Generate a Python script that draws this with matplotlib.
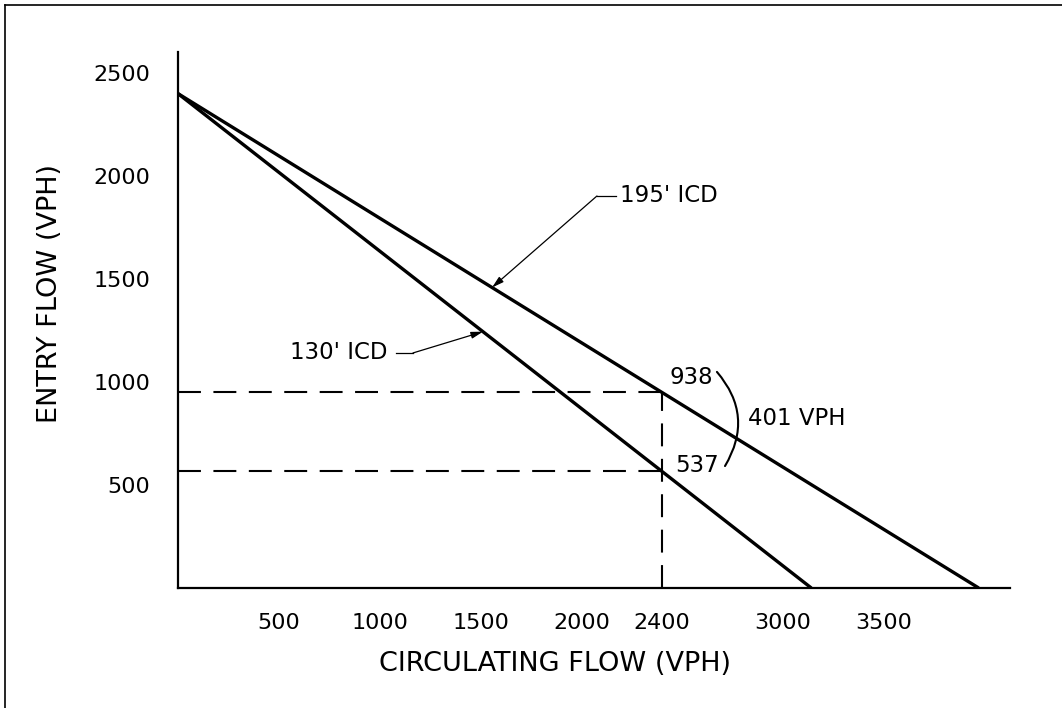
import matplotlib.pyplot as plt
import numpy as np
from matplotlib.lines import Line2D

# data
circ_130 = [0, 3140]          # circulating flow at ends of the 130' ICD line
entry_130 = [2400, 0]
circ_195 = [0, 3970]          # circulating flow at ends of the 195' ICD line
entry_195 = [2400, 0]
design_circ = 2400
reported = {'195': 938, '130': 537}
diff_label = '401 VPH'

x_ticks = [500, 1000, 1500, 2000, 2400, 3000, 3500]
y_ticks = [500, 1000, 1500, 2000, 2500]

fig = plt.figure(figsize=(10.62, 7.08), dpi=100)
ax = fig.add_axes([178 / 1062, 120 / 708, 832 / 1062, 536 / 708])
plt.rcParams['font.family'] = 'DejaVu Sans'

ax.plot(circ_130, entry_130, color='black', lw=2.4, solid_capstyle='butt')
ax.plot(circ_195, entry_195, color='black', lw=2.4, solid_capstyle='butt')

# where the design circulating flow meets each line
y195 = np.interp(design_circ, circ_195, entry_195)
y130 = np.interp(design_circ, circ_130, entry_130)
dash = (0, (11, 6))
ax.plot([0, design_circ], [y195, y195], color='black', lw=1.5, ls=dash)
ax.plot([0, design_circ], [y130, y130], color='black', lw=1.5, ls=dash)
ax.plot([design_circ, design_circ], [0, y195], color='black', lw=1.5, ls=dash)

ax.set_xlim(0, 4125)
ax.set_ylim(0, 2602)
ax.set_xticks(x_ticks)
ax.set_yticks(y_ticks)
ax.tick_params(length=0, labelsize=16)
ax.tick_params(axis='x', pad=18)
ax.tick_params(axis='y', pad=20)
for s in ['top', 'right']:
    ax.spines[s].set_visible(False)
for s in ['left', 'bottom']:
    ax.spines[s].set_linewidth(1.6)

ax.set_xlabel('CIRCULATING FLOW (VPH)', fontsize=19.5)
ax.set_ylabel('ENTRY FLOW (VPH)', fontsize=19.5)
ax.xaxis.set_label_coords(0.453, -0.142)
ax.xaxis.label.set_va('center')
ax.yaxis.set_label_coords(-0.154, 0.55)
ax.yaxis.label.set_va('center')

# value labels and bracket
ax.text(2543, 1024, str(reported['195']), fontsize=16.5, ha='center', va='center')
ax.text(2573, 597, str(reported['130']), fontsize=16.5, ha='center', va='center')
ax.text(2826, 825, diff_label, fontsize=16.5, ha='left', va='center')
ax.annotate('', xy=(2712, 592), xytext=(2672, 1049),
            arrowprops=dict(arrowstyle='-', lw=1.5, color='black',
                            connectionstyle='arc3,rad=-0.36',
                            shrinkA=0, shrinkB=0))

# leader callouts
tip195 = (1557, np.interp(1557, circ_195, entry_195))
ax.text(2191, 1903, "195' ICD", fontsize=16.5, ha='left', va='center')
ax.plot([2077, 2172], [1903, 1903], color='black', lw=0.9)
ax.annotate('', xy=tip195, xytext=(2077, 1903),
            arrowprops=dict(arrowstyle='-|>,head_length=0.7,head_width=0.2',
                            lw=0.9, color='black', shrinkA=0, shrinkB=0))

tip130 = (1512, np.interp(1512, circ_130, entry_130))
ax.text(1041, 1141, "130' ICD", fontsize=16.5, ha='right', va='center')
ax.plot([1081, 1165], [1141, 1141], color='black', lw=0.9)
ax.annotate('', xy=tip130, xytext=(1165, 1141),
            arrowprops=dict(arrowstyle='-|>,head_length=0.7,head_width=0.2',
                            lw=0.9, color='black', shrinkA=0, shrinkB=0))

# frame: only the left and top edges are inside the picture
fig.lines.append(Line2D([5 / 1062, 5 / 1062], [0, 1 - 5 / 708],
                        transform=fig.transFigure, color='black', lw=1.2))
fig.lines.append(Line2D([5 / 1062, 1], [1 - 5 / 708, 1 - 5 / 708],
                        transform=fig.transFigure, color='black', lw=1.2))

plt.savefig('out.png', dpi=100)
plt.close()
